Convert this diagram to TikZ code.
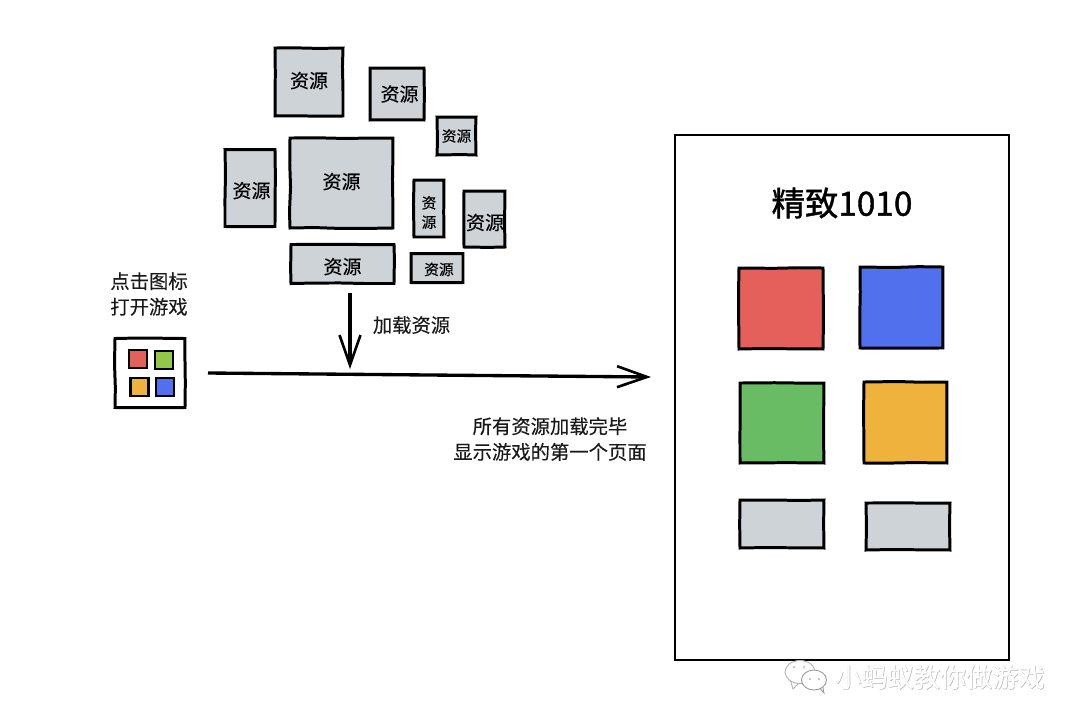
\documentclass[tikz,border=0pt]{standalone}
\usepackage{fontspec}
\setmainfont[FakeBold=0.2]{Noto Sans CJK SC}
\newfontfamily\titlefont[FakeBold=1.2]{Noto Sans CJK SC}
\usetikzlibrary{arrows.meta,shapes.geometric,decorations.pathmorphing}
\definecolor{resgray}{HTML}{CED3D8}
\definecolor{tilered}{HTML}{E55F5B}
\definecolor{tileblue}{HTML}{5170EE}
\definecolor{tilegreen}{HTML}{69BC63}
\definecolor{tileorange}{HTML}{EFB23D}
\definecolor{iconlime}{HTML}{93C748}

\begin{document}
\begin{tikzpicture}[
  x=0.02cm,y=-0.02cm,
  rough/.style={decorate,decoration={random steps,segment length=14pt,amplitude=0.3pt}},
  res/.style={rectangle,rough,draw=black,fill=resgray,line width=1.7pt,inner sep=0pt,font=\fontsize{10.8pt}{10.8pt}\selectfont},
  smallres/.style={res,font=\fontsize{8.4pt}{11pt}\selectfont},
  tile/.style={rectangle,rough,draw=black,line width=1.7pt,inner sep=0pt},
  icontile/.style={rectangle,draw=black,line width=1.4pt,inner sep=0pt,minimum width=0.36cm,minimum height=0.36cm},
  caption/.style={align=center,inner sep=0pt,font=\fontsize{11pt}{14.6pt}\selectfont,text=black!90},
  flow/.style={line width=1.9pt,-{Straight Barb[length=0.6cm,width=0.42cm,line width=1.5pt]}},
  wmark/.style={white,inner sep=0pt,font=\fontsize{14.9pt}{18pt}\selectfont},
  wmarkshade/.style={black!35,inner sep=0pt,font=\fontsize{14.9pt}{18pt}\selectfont},
  bubble/.style={ellipse,draw=black!30,fill=white,line width=0.5pt,inner sep=0pt},
  eye/.style={circle,fill=black!25,inner sep=0pt,minimum size=0.05cm}
]
  \pgfmathsetseed{7}
  \useasboundingbox (0,0) rectangle (1080,725);
  % resources
  \node[res,minimum width=1.36cm,minimum height=1.36cm,text depth=2.5pt] (res1) at (309,82) {资源};
  \node[res,minimum width=1.08cm,minimum height=1.04cm] (res2) at (397,94) {\hspace{0.1cm}资源};
  \node[smallres,minimum width=0.78cm,minimum height=0.76cm] (res3) at (456.5,136) {资源};
  \node[res,minimum width=1.0cm,minimum height=1.54cm,text height=12pt] (res4) at (250,188) {\hspace{0.06cm}资源};
  \node[res,minimum width=2.06cm,minimum height=1.8cm,text depth=2.5pt] (res5) at (341.5,183) {资源};
  \node[smallres,align=center,minimum width=0.6cm,minimum height=1.14cm] (res6) at (429,208.5) {\\[0.02cm]资\\源};
  \node[res,minimum width=0.82cm,minimum height=1.12cm,text height=13pt] (res7) at (484.5,219) {\hspace{0.02cm}资源};
  \node[res,minimum width=2.06cm,minimum height=0.78cm,text height=12pt] (res8) at (342.5,264) {资源};
  \node[smallres,minimum width=1.04cm,minimum height=0.58cm,text height=8.6pt] (res9) at (437,268) {\hspace{0.08cm}资源};
  % left icon
  \node[rectangle,rough,draw=black,line width=1.7pt,fill=white,minimum width=1.4cm,minimum height=1.38cm] (icon) at (150,373) {};
  \node[icontile,fill=tilered] (icon1) at (138,359) {};
  \node[icontile,fill=iconlime] (icon2) at (164,360) {};
  \node[icontile,fill=tileorange] (icon3) at (139.5,387) {};
  \node[icontile,fill=tileblue] (icon4) at (165,387) {};
  \node[caption] (tap) at (149,294) {点击图标\\打开游戏};
  % arrows
  \coordinate (mainstart) at (208,373);
  \coordinate (mainend) at (651,377);
  \coordinate (loadstart) at (350,293);
  \coordinate (loadend) at (350,369);
  \draw[flow] (mainstart) -- (mainend);
  \draw[flow] (loadstart) -- (loadend);
  \node[caption] (load) at (411.5,325) {加载资源};
  \node[caption] (done) at (550,439) {所有资源加载完毕\\显示游戏的第一个页面};
  % game page
  \node[rectangle,draw=black,line width=1.3pt,fill=white,minimum width=6.68cm,minimum height=10.5cm] (page) at (842,397.5) {};
  \node[inner sep=0pt,font=\titlefont\fontsize{19pt}{24pt}\selectfont] (title) at (842,203) {精致1010};
  \node[tile,fill=tilered,minimum width=1.68cm,minimum height=1.62cm] (red) at (781,308.5) {};
  \node[tile,fill=tileblue,minimum width=1.66cm,minimum height=1.62cm] (blue) at (901.5,307.5) {};
  \node[tile,fill=tilegreen,minimum width=1.68cm,minimum height=1.6cm] (green) at (782,423) {};
  \node[tile,fill=tileorange,minimum width=1.66cm,minimum height=1.62cm] (orange) at (905.5,422.5) {};
  \node[tile,fill=resgray,minimum width=1.68cm,minimum height=0.96cm] (bar1) at (782,524) {};
  \node[tile,fill=resgray,minimum width=1.68cm,minimum height=0.94cm] (bar2) at (908,526.5) {};
  % watermark
  \node[wmarkshade] (markback) at (940.5,677.5) {小蚂蚁教你做游戏};
  \node[wmark] (markfront) at (940,677) {小蚂蚁教你做游戏};
  \draw[draw=black!30,fill=white,line width=0.5pt] (790,679) -- (793,689) -- (800,682);
  \node[bubble,minimum width=0.6cm,minimum height=0.46cm] (bubble1) at (800,672) {};
  \draw[draw=black!40,fill=white,line width=0.5pt] (818,686) -- (824,693) -- (822,683);
  \node[bubble,draw=black!40,minimum width=0.5cm,minimum height=0.4cm] (bubble2) at (814,680) {};
  \node[eye] (eye1) at (794,667) {};
  \node[eye] (eye2) at (804,667) {};
  \node[eye] (eye3) at (810,679) {};
  \node[eye] (eye4) at (819,679) {};
\end{tikzpicture}
\end{document}
